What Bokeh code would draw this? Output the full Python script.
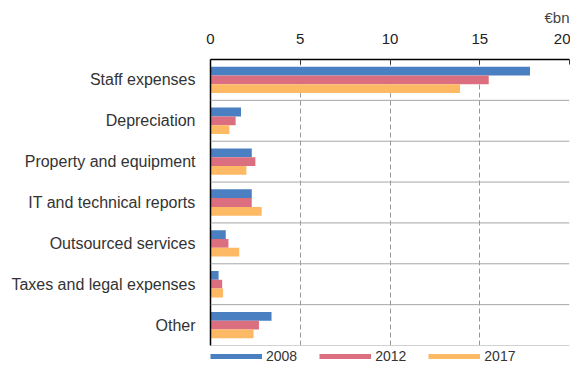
from bokeh.plotting import figure
from bokeh.layouts import column
from bokeh.models import FactorRange, Range1d, Span, Legend, LegendItem, ColumnDataSource, FixedTicker
from bokeh.transform import dodge
from bokeh.embed import file_html
from bokeh.resources import INLINE

categories = ["Staff expenses", "Depreciation", "Property and equipment",
              "IT and technical reports", "Outsourced services",
              "Taxes and legal expenses", "Other"]
years = ["2008", "2012", "2017"]
v2008 = [17.8, 1.7, 2.3, 2.3, 0.85, 0.45, 3.4]
v2012 = [15.5, 1.4, 2.5, 2.3, 1.0, 0.65, 2.7]
v2017 = [13.9, 1.05, 2.0, 2.85, 1.6, 0.7, 2.4]
x_ticks = [0, 5, 10, 15, 20]
unit_label = "€bn"
colors = ["#4a80c1", "#dc6f7f", "#fdb963"]

FONT = "Liberation Sans"

p = figure(width=570, height=347, output_backend="svg", toolbar_location=None,
           y_range=FactorRange(factors=categories[::-1], range_padding=0),
           x_range=Range1d(0, 20), x_axis_location="above",
           min_border_left=210, min_border_right=1, min_border_top=59,
           min_border_bottom=2, title=unit_label)

p.title.align = "right"
p.title.text_font = FONT
p.title.text_font_style = "normal"
p.title.text_font_size = "15px"
p.title.text_color = "#444444"
p.title.standoff = 10
p.outline_line_color = None

xa = p.xaxis[0]
xa.ticker = FixedTicker(ticks=x_ticks)
xa.major_label_text_font = FONT
xa.major_label_text_font_size = "15px"
xa.major_label_text_color = "#222222"
xa.major_tick_in = 5
xa.major_tick_out = 0
xa.major_tick_line_color = "#333333"
xa.minor_tick_line_color = None
xa.axis_line_color = "black"
xa.axis_line_width = 1.5
xa.major_label_standoff = 16

ya = p.yaxis[0]
ya.major_tick_line_color = None
ya.major_tick_out = 0
ya.major_tick_in = 0
ya.minor_tick_line_color = None
ya.major_label_text_font = FONT
ya.major_label_text_font_size = "16px"
ya.major_label_text_color = "#333333"
ya.major_label_standoff = 15
ya.axis_line_color = "black"
ya.axis_line_width = 1.5

p.ygrid.grid_line_color = None
p.xgrid.grid_line_color = "#999999"
p.xgrid.grid_line_dash = "5 3"
p.xgrid.grid_line_width = 1

for i in range(len(categories)):
    p.add_layout(Span(location=i, dimension="width", line_color="#a6a6a6", line_width=1))

src = ColumnDataSource(dict(cat=categories, v2008=v2008, v2012=v2012, v2017=v2017))
offsets = [0.215, 0.0, -0.215]
for col, off, c in zip(["v2008", "v2012", "v2017"], offsets, colors):
    p.hbar(y=dodge("cat", off, range=p.y_range), left=0, right=col, height=0.215,
           source=src, fill_color=c, line_color=None)

# legend strip below the chart
lf = figure(width=570, height=18, output_backend="svg", toolbar_location=None,
            x_range=Range1d(0, 1), y_range=Range1d(0, 1),
            min_border_left=209, min_border_right=0, min_border_top=0, min_border_bottom=0)
lf.axis.visible = False
lf.grid.grid_line_color = None
lf.outline_line_color = None

nan = float("nan")
items = []
for yr, c in zip(years, colors):
    r = lf.line(x=[nan], y=[nan], line_color=c, line_width=5)
    items.append(LegendItem(label=yr, renderers=[r]))

legend = Legend(items=items, orientation="horizontal", location="top_left",
                glyph_width=52, glyph_height=18, label_height=18, label_standoff=4,
                spacing=22, padding=0, margin=0, border_line_color=None,
                background_fill_alpha=0, label_text_font=FONT,
                label_text_font_size="14px", label_text_color="#333333")
lf.add_layout(legend)

layout = column(p, lf, spacing=0)
open("out.html", "w").write(file_html(layout, INLINE))
